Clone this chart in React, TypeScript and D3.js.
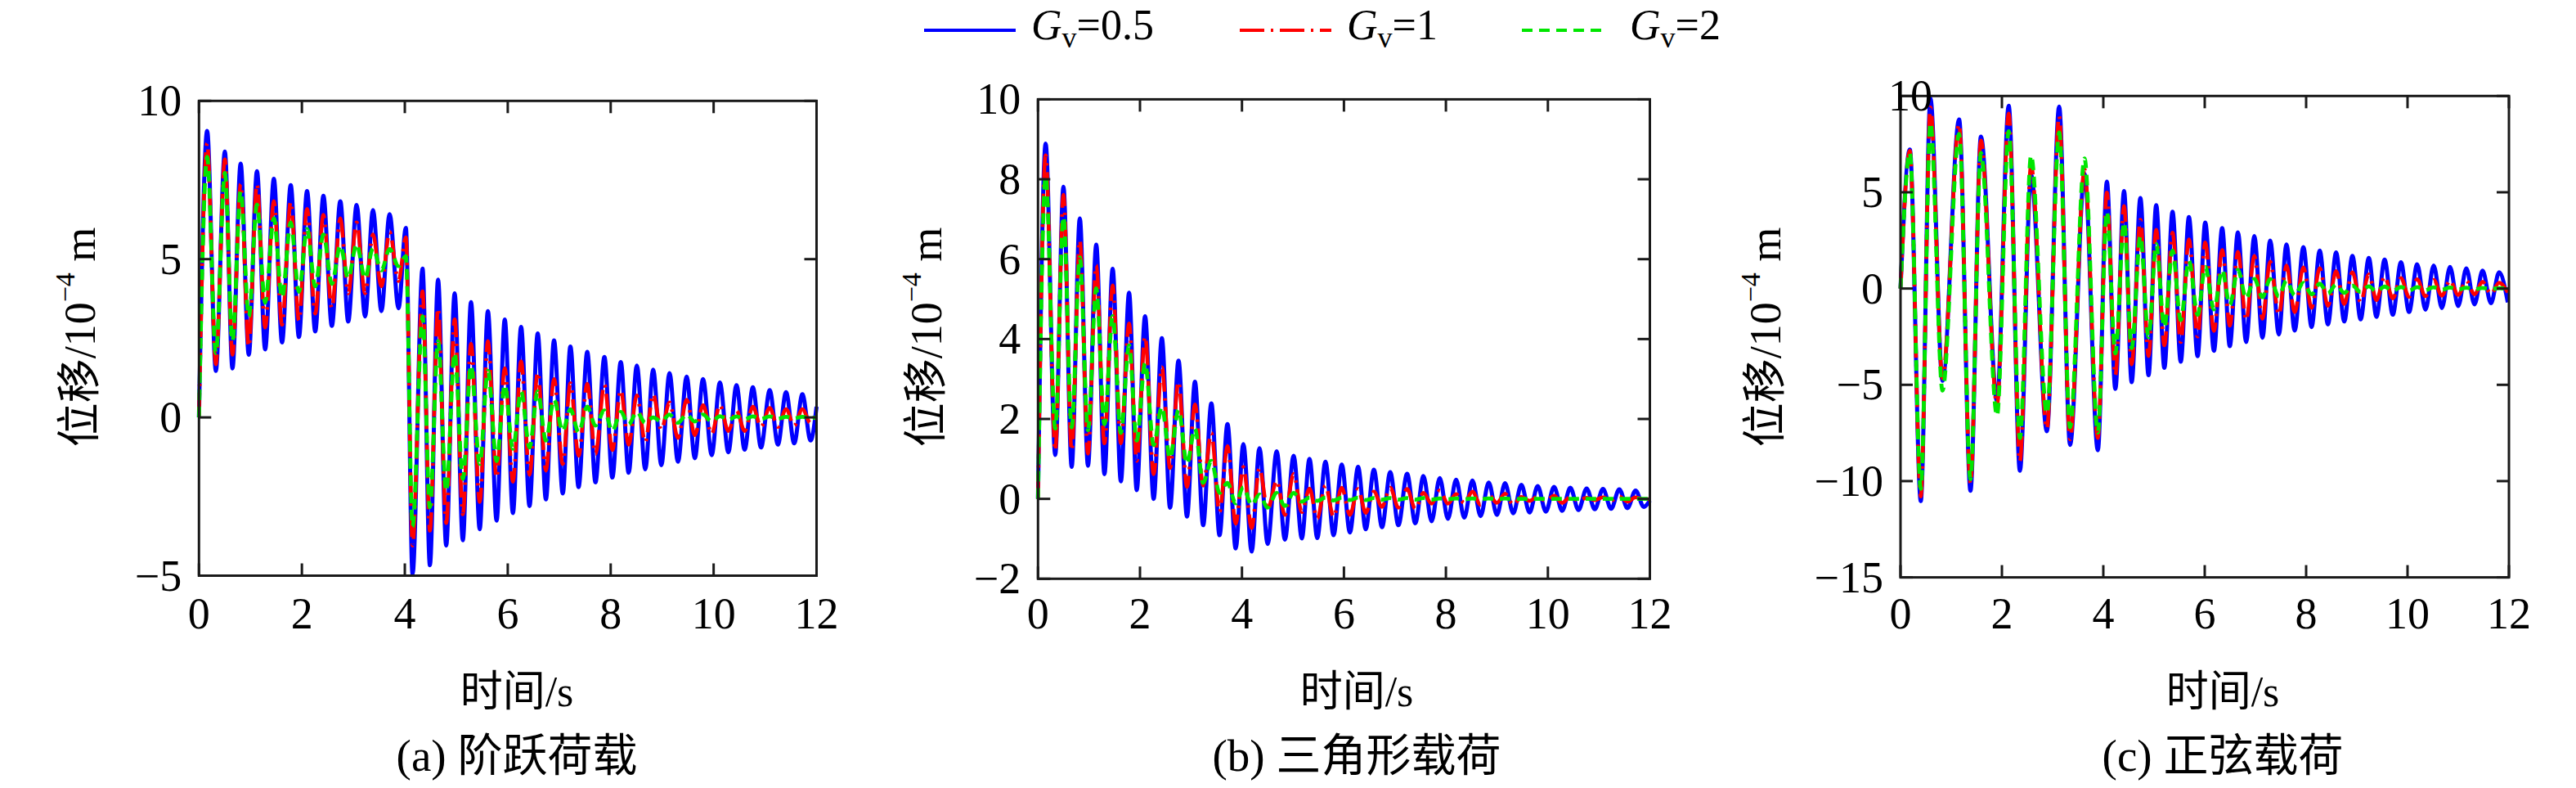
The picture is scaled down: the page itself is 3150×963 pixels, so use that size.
import React from 'react';
import * as d3 from 'd3';

const W = 3150;
const H = 963;

// ---------- Data (extrema) ----------
// (a) step load
const timeA = [
  0, 0.159, 0.328, 0.503, 0.651, 0.81, 0.968, 1.127, 1.286, 1.455,
  1.614, 1.783, 1.942, 2.10, 2.259, 2.418, 2.582, 2.746, 2.90, 3.063,
  3.228, 3.381, 3.545, 3.704, 3.878, 4.02, 4.15, 4.344, 4.487, 4.646,
  4.804, 4.968, 5.127, 5.286, 5.455, 5.614, 5.783, 5.942, 6.10, 6.259,
  6.423, 6.582, 6.741, 6.899, 7.069, 7.217, 7.376, 7.545, 7.704, 7.878,
  8.032, 8.196, 8.349, 8.508, 8.672, 8.825, 8.984, 9.143, 9.307, 9.476,
  9.635, 9.794, 9.963, 10.122, 10.286, 10.444, 10.603, 10.762, 10.921, 11.09,
  11.249, 11.407, 11.566, 11.725, 11.884, 12.0,
];
const blueA = [
  0, 9.05, 1.47, 8.40, 1.55, 8.02, 1.98, 7.78, 2.15, 7.54,
  2.37, 7.34, 2.54, 7.15, 2.72, 7.00, 2.89, 6.83, 3.03, 6.71,
  3.19, 6.55, 3.36, 6.42, 3.45, 5.99, -4.95, 4.70, -4.67, 4.35,
  -4.05, 3.92, -3.88, 3.64, -3.53, 3.36, -3.26, 3.09, -3.02, 2.86,
  -2.80, 2.65, -2.59, 2.43, -2.40, 2.24, -2.20, 2.07, -2.05, 1.91,
  -1.90, 1.75, -1.75, 1.64, -1.64, 1.51, -1.51, 1.40, -1.40, 1.29,
  -1.29, 1.21, -1.19, 1.10, -1.10, 1.02, -1.02, 0.95, -0.95, 0.86,
  -0.86, 0.80, -0.82, 0.73, -0.73, 0.34,
];
const redA = [
  0, 8.66, 1.68, 8.15, 1.98, 7.37, 2.24, 7.37, 2.84, 6.83,
  2.93, 6.81, 3.06, 6.59, 3.28, 6.40, 3.45, 6.29, 3.92, 6.16,
  3.92, 5.78, 4.14, 5.86, 4.31, 5.69, -4.05, 3.98, -3.58, 3.45,
  -3.34, 3.10, -3.06, 2.33, -2.67, 2.41, -1.90, 1.55, -2.03, 1.77,
  -1.81, 1.42, -1.68, 1.21, -1.47, 1.08, -1.21, 1.06, -1.16, 1.04,
  -1.03, 0.86, -0.86, 0.69, -0.78, 0.73, -0.39, 0.47, -0.65, 0.56,
  -0.56, 0.39, -0.52, 0.39, -0.43, 0.22, -0.43, 0.34, -0.30, 0.30,
  -0.30, 0.26, -0.26, 0.26, -0.18, 0.05,
];
const greenA = [
  0, 8.23, 2.03, 7.72, 2.41, 7.15, 3.19, 6.72, 3.62, 6.29,
  3.79, 6.16, 3.97, 5.95, 4.14, 5.78, 4.22, 5.43, 4.40, 5.47,
  4.40, 5.34, 4.65, 5.32, 4.78, 5.09, -3.45, 3.19, -2.84, 2.41,
  -2.33, 2.03, -1.94, 1.64, -1.47, 1.47, -1.38, 1.03, -0.99, 0.82,
  -0.95, 0.82, -0.73, 0.56, -0.43, 0.26, -0.47, 0.34, -0.26, 0.22,
  -0.43, 0.17, -0.22, 0.17, -0.17, 0.0, -0.13, 0.09, -0.17, 0.09,
  -0.13, 0.09, -0.13, 0.04, -0.08, 0.03, -0.06, 0.03, -0.05, 0.03,
  -0.04, 0.02, -0.03, 0.02, -0.02, 0.0,
];

// (b) triangular load
const timeB = [
  0, 0.15, 0.338, 0.499, 0.66, 0.82, 0.98, 1.142, 1.303, 1.464,
  1.625, 1.786, 1.936, 2.10, 2.268, 2.429, 2.59, 2.756, 2.922, 3.078,
  3.239, 3.40, 3.56, 3.716, 3.877, 4.027, 4.19, 4.343, 4.504, 4.681,
  4.842, 5.013, 5.174, 5.324, 5.477, 5.637, 5.797, 5.957, 6.117, 6.278,
  6.427, 6.587, 6.747, 6.908, 7.068, 7.239, 7.399, 7.559, 7.719, 7.879,
  8.04, 8.20, 8.36, 8.52, 8.68, 8.84, 9.0, 9.16, 9.32, 9.48,
  9.64, 9.80, 9.96, 10.12, 10.28, 10.44, 10.60, 10.76, 10.92, 11.08,
  11.24, 11.40, 11.56, 11.72, 11.88, 12.0,
];
const blueB = [
  0, 8.89, 1.10, 7.81, 0.80, 7.02, 0.83, 6.36, 0.62, 5.76,
  0.44, 5.16, 0.22, 4.57, 0.0, 4.02, -0.22, 3.46, -0.44, 2.93,
  -0.66, 2.39, -0.91, 1.87, -1.24, 1.37, -1.32, 1.27, -1.13, 1.19,
  -1.02, 1.08, -0.99, 1.0, -0.98, 0.93, -0.91, 0.86, -0.84, 0.80,
  -0.76, 0.73, -0.71, 0.67, -0.66, 0.63, -0.61, 0.57, -0.56, 0.52,
  -0.50, 0.48, -0.47, 0.46, -0.43, 0.41, -0.40, 0.39, -0.36, 0.35,
  -0.34, 0.32, -0.32, 0.30, -0.30, 0.28, -0.28, 0.26, -0.26, 0.25,
  -0.25, 0.24, -0.23, 0.21, -0.20, -0.04,
];
const redB = [
  0, 8.60, 1.21, 7.61, 1.21, 6.47, 1.13, 5.85, 1.39, 5.34,
  1.39, 4.39, 0.95, 4.06, 0.62, 3.29, 0.77, 2.93, 0.30, 2.36,
  0.33, 1.65, -0.33, 1.32, -0.62, 0.80, -0.73, 0.77, -0.26, 0.45,
  -0.40, 0.62, -0.33, 0.26, -0.49, 0.33, -0.45, 0.28, -0.40, 0.25,
  -0.35, 0.18, -0.20, 0.28, -0.22, 0.25, -0.25, 0.15, -0.12, 0.21,
  -0.12, 0.12, -0.10, 0.18, -0.15, 0.10, -0.10, 0.13, -0.15, 0.05,
  -0.05, 0.05, -0.05, 0.08, -0.10, 0.05, -0.05, 0.03, -0.03, 0.04,
  -0.04, 0.06, -0.07, 0.04, -0.02, 0.0,
];
const greenB = [
  0, 8.08, 1.76, 7.06, 1.79, 6.04, 1.72, 5.27, 1.87, 4.57,
  1.65, 3.84, 1.46, 3.40, 1.35, 2.30, 1.02, 2.23, 0.88, 1.76,
  0.40, 0.95, 0.15, 0.40, -0.11, 0.29, -0.15, 0.11, -0.22, 0.15,
  -0.18, 0.15, -0.07, 0.03, -0.05, 0.03, -0.04, 0.03, -0.03, 0.03,
  -0.03, 0.02, -0.02, 0.02, -0.02, 0.02, -0.02, 0.02, -0.02, 0.01,
  -0.01, 0.01, -0.01, 0.01, -0.01, 0.01, -0.01, 0.01, -0.01, 0.0,
  0, 0, 0, 0, 0, 0, 0, 0, 0, 0,
  0, 0, 0, 0, 0, 0,
];

// (c) sine load
const timeC = [
  0, 0.183, 0.40, 0.59, 0.828, 1.156, 1.38, 1.586, 1.903, 2.134,
  2.355, 2.575, 2.887, 3.129, 3.344, 3.629, 3.892, 4.07, 4.237, 4.409,
  4.559, 4.731, 4.892, 5.043, 5.204, 5.365, 5.527, 5.688, 5.86, 6.01,
  6.182, 6.344, 6.494, 6.655, 6.817, 6.978, 7.139, 7.29, 7.462, 7.612,
  7.774, 7.946, 8.107, 8.268, 8.43, 8.591, 8.752, 8.913, 9.075, 9.236,
  9.387, 9.548, 9.709, 9.87, 10.03, 10.19, 10.354, 10.515, 10.677, 10.838,
  10.999, 11.16, 11.32, 11.48, 11.645, 11.806, 11.978,
];
const blueC = [
  0, 7.22, -11.04, 9.87, -4.79, 8.78, -10.5, 7.89, -5.85, 9.49,
  -9.46, 5.91, -7.41, 9.45, -8.12, 5.95, -8.40, 5.55, -5.21, 5.06,
  -4.86, 4.70, -4.50, 4.33, -4.12, 3.99, -3.80, 3.71, -3.51, 3.43,
  -3.23, 3.14, -2.99, 2.92, -2.78, 2.72, -2.56, 2.49, -2.38, 2.29,
  -2.18, 2.15, -2.0, 1.97, -1.86, 1.87, -1.71, 1.69, -1.60, 1.59,
  -1.47, 1.50, -1.36, 1.36, -1.22, 1.26, -1.10, 1.19, -1.01, 1.12,
  -0.91, 1.05, -0.82, 0.93, -0.76, 0.84, -0.72,
];
const redC = [
  0, 7.15, -10.8, 9.4, -4.65, 8.53, -10.1, 7.68, -6.06, 9.09,
  -8.97, 6.40, -7.27, 8.95, -7.83, 6.19, -7.76, 4.99, -4.50, 4.28,
  -3.94, 3.57, -3.51, 3.05, -2.95, 2.90, -2.78, 2.55, -2.49, 2.39,
  -2.20, 2.00, -1.93, 1.90, -1.64, 1.69, -1.57, 1.40, -1.35, 1.19,
  -1.22, 1.10, -1.00, 1.05, -0.90, 0.91, -0.80, 0.84, -0.70, 0.74,
  -0.60, 0.62, -0.51, 0.55, -0.44, 0.48, -0.40, 0.45, -0.37, 0.42,
  -0.33, 0.41, -0.30, 0.35, -0.28, 0.30, -0.20,
];
const greenC = [
  0, 7.05, -10.4, 8.6, -5.3, 8.03, -9.9, 7.04, -6.6, 8.17,
  -7.76, 6.9, -6.49, 8.10, -7.2, 6.76, -7.48, 3.99, -3.37, 3.43,
  -3.09, 2.72, -2.52, 2.30, -2.00, 1.97, -1.64, 1.45, -1.36, 1.12,
  -1.08, 0.95, -0.85, 0.98, -0.51, 0.50, -0.45, 0.50, -0.40, 0.41,
  -0.35, 0.30, -0.30, 0.25, -0.25, 0.20, -0.22, 0.15, -0.18, 0.12,
  -0.15, 0.10, -0.12, 0.08, -0.10, 0.07, -0.08, 0.06, -0.06, 0.05,
  -0.05, 0.04, -0.04, 0.03, -0.03, 0.02, -0.02,
];

const xTicks = [0, 2, 4, 6, 8, 10, 12];
const yTicksA = [-5, 0, 5, 10];
const yTicksB = [-2, 0, 2, 4, 6, 8, 10];
const yTicksC = [-15, -10, -5, 0, 5, 10];
const captions = ['(a) 阶跃荷载', '(b) 三角形载荷', '(c) 正弦载荷'];
const legendValues = ['0.5', '1', '2'];
const xTitle = '时间/s';

// ---------- Styles / layout ----------
const SERIF = "'Liberation Serif', 'Times New Roman', 'Noto Sans CJK SC', serif";
const AXIS_COLOR = '#1a1a1a';
const seriesStyles = [
  { color: '#0000ff', width: 5, dash: undefined as string | undefined },
  { color: '#ff0000', width: 4.6, dash: '30 8 3 8' },
  { color: '#00e600', width: 4.8, dash: '13 8' },
];

const panels = [
  {
    box: { left: 243.3, right: 998.5, top: 123.3, bottom: 703.5 },
    yDomain: [-5, 10], yTicks: yTicksA, time: timeA, series: [blueA, redA, greenA],
    yTitleX: 98, titleX: 632, caption: captions[0], topLabelShift: 0,
  },
  {
    box: { left: 1269.3, right: 2017.5, top: 121.4, bottom: 707.3 },
    yDomain: [-2, 10], yTicks: yTicksB, time: timeB, series: [blueB, redB, greenB],
    yTitleX: 1133, titleX: 1659, caption: captions[1], topLabelShift: 0,
  },
  {
    box: { left: 2324, right: 3068, top: 117.3, bottom: 705.6 },
    yDomain: [-15, 10], yTicks: yTicksC, time: timeC, series: [blueC, redC, greenC],
    yTitleX: 2159, titleX: 2718, caption: captions[2], topLabelShift: 60,
  },
];

const legendItems = [
  { x1: 1130, x2: 1242, tx: 1261 },
  { x1: 1516, x2: 1628, tx: 1647 },
  { x1: 1861, x2: 1962, tx: 1993 },
];

const fmt = (v: number) => (v < 0 ? '\u2212' + Math.abs(v) : String(v));

function zip(t: number[], v: number[]): [number, number][] {
  const n = Math.min(t.length, v.length);
  return d3.range(n).map((i) => [t[i], v[i]] as [number, number]);
}

function Panel({ p }: { p: (typeof panels)[number] }) {
  const { box } = p;
  const x = d3.scaleLinear().domain([0, 12]).range([box.left, box.right]);
  const y = d3.scaleLinear().domain(p.yDomain).range([box.bottom, box.top]);
  const line = d3
    .line<[number, number]>()
    .x((d) => x(d[0]))
    .y((d) => y(d[1]))
    .curve(d3.curveMonotoneX);
  const tickLen = 15;
  const yMid = 412;
  const maxY = p.yDomain[1];
  return (
    <g>
      {p.series.map((vals, i) => (
        <path
          key={i}
          d={line(zip(p.time, vals)) || ''}
          fill="none"
          stroke={seriesStyles[i].color}
          strokeWidth={seriesStyles[i].width}
          strokeDasharray={seriesStyles[i].dash}
          strokeLinejoin="round"
        />
      ))}
      <rect
        x={box.left}
        y={box.top}
        width={box.right - box.left}
        height={box.bottom - box.top}
        fill="none"
        stroke={AXIS_COLOR}
        strokeWidth={3}
      />
      {xTicks.map((t) => (
        <g key={'xt' + t}>
          <line x1={x(t)} x2={x(t)} y1={box.bottom} y2={box.bottom - tickLen} stroke={AXIS_COLOR} strokeWidth={3} />
          <line x1={x(t)} x2={x(t)} y1={box.top} y2={box.top + tickLen} stroke={AXIS_COLOR} strokeWidth={3} />
          <text x={x(t)} y={768} textAnchor="middle" fontFamily={SERIF} fontSize={54} fill="#000">
            {t}
          </text>
        </g>
      ))}
      {p.yTicks.map((v) => (
        <g key={'yt' + v}>
          <line x1={box.left} x2={box.left + tickLen} y1={y(v)} y2={y(v)} stroke={AXIS_COLOR} strokeWidth={3} />
          <line x1={box.right} x2={box.right - tickLen} y1={y(v)} y2={y(v)} stroke={AXIS_COLOR} strokeWidth={3} />
          <text
            x={box.left - 21 + (v === maxY ? p.topLabelShift : 0)}
            y={y(v) + 18}
            textAnchor="end"
            fontFamily={SERIF}
            fontSize={54}
            fill="#000"
          >
            {fmt(v)}
          </text>
        </g>
      ))}
      <text
        transform={`translate(${p.yTitleX},${yMid}) rotate(-90)`}
        textAnchor="middle"
        dominantBaseline="central"
        fontFamily={SERIF}
        fontSize={54}
        fill="#000"
      >
        位移/10
        <tspan dy={-19} fontSize={34}>
          {'\u2212'}4
        </tspan>
        <tspan dy={19} fontSize={54}>
          {' m'}
        </tspan>
      </text>
      <text x={p.titleX} y={863} textAnchor="middle" fontFamily={SERIF} fontSize={52} fill="#000">
        {xTitle}
      </text>
      <text x={p.titleX} y={942} textAnchor="middle" fontFamily={SERIF} fontSize={55} fill="#000">
        {p.caption}
      </text>
    </g>
  );
}

function Legend() {
  const ly = 37;
  return (
    <g>
      {legendItems.map((it, i) => (
        <g key={i}>
          <line
            x1={it.x1}
            x2={it.x2}
            y1={ly}
            y2={ly}
            stroke={seriesStyles[i].color}
            strokeWidth={3.8}
            strokeDasharray={seriesStyles[i].dash}
          />
          <text x={it.tx} y={48} fontFamily={SERIF} fontSize={52} fill="#000">
            <tspan fontStyle="italic">G</tspan>
            <tspan fontSize={36} dy={10}>
              v
            </tspan>
            <tspan dy={-10}>={legendValues[i]}</tspan>
          </text>
        </g>
      ))}
    </g>
  );
}

export default function App() {
  return (
    <svg
      width={W}
      height={H}
      viewBox={`0 0 ${W} ${H}`}
      style={{ position: 'absolute', left: 0, top: 0, background: '#fff' }}
    >
      <rect x={0} y={0} width={W} height={H} fill="#fff" />
      <Legend />
      {panels.map((p, i) => (
        <Panel key={i} p={p} />
      ))}
    </svg>
  );
}
